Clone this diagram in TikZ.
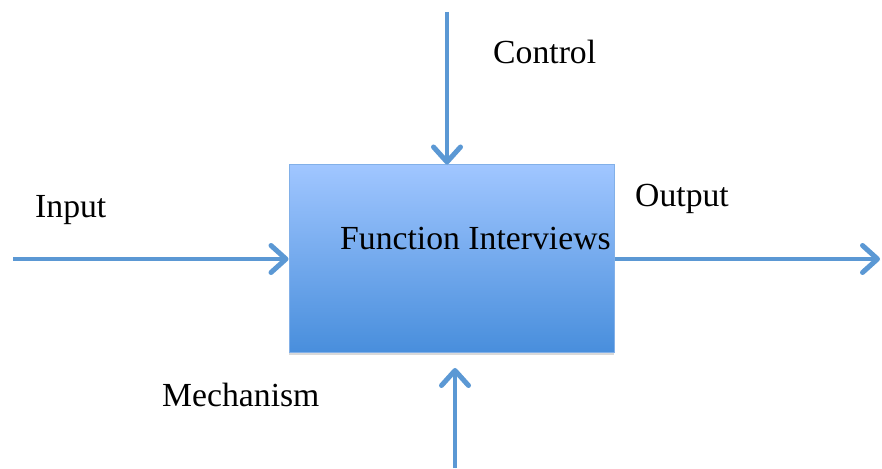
\documentclass[tikz,border=0pt]{standalone}
\usepackage{fontspec}
\setmainfont{Liberation Serif}
\usetikzlibrary{arrows.meta,shadows}
\definecolor{flowblue}{RGB}{91,152,212}
\definecolor{boxtop}{RGB}{160,198,255}
\definecolor{boxbot}{RGB}{72,142,220}
\definecolor{boxedge}{RGB}{130,176,232}
\tikzset{
  x=1pt, y=1pt,
  lbl/.style={anchor=base west, inner sep=0pt, font=\fontsize{33.7}{40}\selectfont},
  flow/.style={draw=flowblue, line width=4.8pt,
    -{Straight Barb[length=15pt, width=27pt, line width=5pt, round]},
    drop shadow={shadow xshift=0.8pt, shadow yshift=-1.5pt, opacity=0.25}},
  funcbox/.style={draw=boxedge, line width=1pt, top color=boxtop, bottom color=boxbot,
    minimum width=325pt, minimum height=188pt, inner sep=0pt,
    drop shadow={shadow xshift=0pt, shadow yshift=-2.5pt, opacity=0.3}}
}
\begin{document}
\begin{tikzpicture}
\useasboundingbox (0,0) rectangle (882,468);
% the activity box
\node[funcbox] (box) at (451.5,209) {};
\node[lbl] (fname) at (340,218) {Function Interviews};
% free ends of the four flows
\coordinate (ctrlend) at (447,456);
\coordinate (inend) at (13,209);
\coordinate (outend) at (880,209);
\coordinate (mechend) at (455,0);
\coordinate (mechtip) at (455,100);
% flows
\draw[flow] (ctrlend) -- (ctrlend |- box.north);
\draw[flow] (inend) -- (box.west);
\draw[flow] (box.east) -- (outend);
\draw[flow] (mechend) -- (mechtip);
% flow labels
\node[lbl] (ctrl) at (493,404) {Control};
\node[lbl] (inp) at (35,250) {Input};
\node[lbl] (outp) at (635,261) {Output};
\node[lbl] (mech) at (162,61) {Mechanism};
\end{tikzpicture}
\end{document}
